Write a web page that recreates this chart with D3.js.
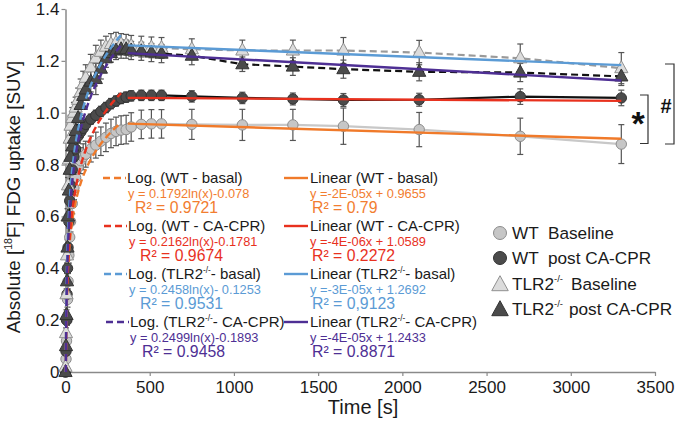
<!DOCTYPE html>
<html><head><meta charset="utf-8">
<script src="https://cdn.jsdelivr.net/npm/d3@7"></script>
<style>body{margin:0;background:#fff}svg{font-family:"Liberation Sans",Arial,sans-serif}</style>
</head><body><svg id="c" width="676" height="429"></svg>
<script>
const times = [0,3,6,9,12,15,20,25,30,40,50,60,75,90,105,120,150,180,210,240,270,300,330,360,390,450,510,570,750,1050,1350,1650,2100,2700,3300];
const wtBase = [0.00,0.05,0.12,0.20,0.28,0.35,0.45,0.52,0.58,0.65,0.71,0.75,0.79,0.815,0.83,0.84,0.86,0.875,0.89,0.905,0.92,0.928,0.933,0.935,0.945,0.955,0.957,0.957,0.955,0.953,0.953,0.948,0.935,0.909,0.879];
const wtCpr = [0.00,0.08,0.20,0.30,0.40,0.48,0.58,0.66,0.72,0.78,0.83,0.86,0.91,0.925,0.94,0.955,0.975,0.99,1.005,1.02,1.035,1.045,1.055,1.06,1.065,1.067,1.067,1.067,1.063,1.057,1.053,1.049,1.05,1.062,1.057];
const tlrBase = [0.02,0.15,0.30,0.45,0.60,0.72,0.82,0.90,0.95,0.98,1.00,1.02,1.05,1.08,1.11,1.135,1.175,1.21,1.235,1.255,1.265,1.27,1.265,1.262,1.258,1.255,1.252,1.25,1.245,1.24,1.24,1.24,1.232,1.21,1.172];
const tlrCpr = [0.00,0.10,0.22,0.35,0.48,0.60,0.70,0.78,0.83,0.87,0.90,0.93,0.98,1.03,1.065,1.09,1.12,1.13,1.17,1.21,1.23,1.24,1.245,1.245,1.24,1.237,1.232,1.228,1.22,1.187,1.178,1.168,1.158,1.155,1.14];
const wtBaseErr = [0.01,0.01,0.02,0.02,0.03,0.03,0.03,0.04,0.04,0.04,0.045,0.045,0.045,0.05,0.05,0.05,0.05,0.05,0.055,0.055,0.055,0.055,0.055,0.055,0.055,0.055,0.055,0.055,0.058,0.06,0.06,0.07,0.066,0.07,0.075];
const wtCprErr = [0.01,0.01,0.015,0.015,0.02,0.02,0.02,0.02,0.02,0.02,0.02,0.02,0.02,0.02,0.02,0.02,0.02,0.02,0.02,0.02,0.02,0.02,0.02,0.02,0.02,0.02,0.02,0.02,0.022,0.022,0.023,0.025,0.025,0.03,0.03];
const tlrBaseErr = [0.01,0.02,0.02,0.03,0.03,0.03,0.035,0.035,0.04,0.04,0.04,0.04,0.045,0.05,0.05,0.05,0.05,0.05,0.045,0.04,0.04,0.04,0.04,0.04,0.04,0.04,0.04,0.04,0.04,0.04,0.04,0.05,0.047,0.055,0.06];
const tlrCprErr = [0.01,0.02,0.02,0.03,0.03,0.03,0.035,0.035,0.035,0.035,0.035,0.035,0.04,0.04,0.04,0.04,0.04,0.06,0.04,0.035,0.035,0.035,0.035,0.035,0.035,0.035,0.035,0.035,0.035,0.028,0.034,0.035,0.035,0.035,0.035];

const seriesNames = ["WT  Baseline","WT  post CA-CPR","TLR2","TLR2"];
const logA = [0.1792,0.2162,0.2458,0.2499];
const logB = [-0.078,-0.1781,-0.1253,-0.1893];
const linSlope = [-2e-5,-4e-6,-2.6e-5,-3.6e-5];
const linIntercept = [0.9655,1.0589,1.2692,1.2433];
const logLabels = ["Log. (WT - basal)","Log. (WT - CA-CPR)","Log. (TLR2|- basal)","Log. (TLR2|- CA-CPR)"];
const logEq = ["y = 0.1792ln(x)-0.078","y = 0.2162ln(x)-0.1781","y = 0.2458ln(x)- 0.1253","y = 0.2499ln(x)-0.1893"];
const logR2 = ["R² = 0.9721","R² = 0.9674","R² = 0.9531","R² = 0.9458"];
const linLabels = ["Linear (WT - basal)","Linear (WT - CA-CPR)","Linear (TLR2|- basal)","Linear (TLR2|- CA-CPR)"];
const linEq = ["y =-2E-05x + 0.9655","y =-4E-06x + 1.0589","y =-3E-05x + 1.2692","y =-4E-05x + 1.2433"];
const linR2 = ["R² = 0.79","R² = 0.2272","R² = 0,9123","R² = 0.8871"];
const xTicks = [0,500,1000,1500,2000,2500,3000,3500];
const yTicks = [0,0.2,0.4,0.6,0.8,1.0,1.2,1.4];

const fitColors = ["#f07a2a","#e8311e","#5b9bd5","#4e2f94"];
const eqColors = ["#f27d30","#e8311e","#5b9bd5","#4e2f94"];

const svg = d3.select("#c");
const x = d3.scaleLinear().domain([0,3500]).range([65.5,655]);
const y = d3.scaleLinear().domain([0,1.4]).range([372,9]);

// axes
const ya = svg.append("g").attr("transform","translate(65.5,0)")
  .call(d3.axisLeft(y).tickValues(yTicks).tickSize(4).tickSizeOuter(0).tickFormat(d=>d===0?"0":d3.format(".1f")(d)));
const xa = svg.append("g").attr("transform","translate(0,372)")
  .call(d3.axisBottom(x).tickValues(xTicks).tickSize(4).tickSizeOuter(0).tickFormat(d3.format("d")));
[ya,xa].forEach(g=>{
  g.selectAll("path").attr("stroke","#8a8a8a").attr("stroke-width",1.5);
  g.selectAll("line").attr("stroke","#8a8a8a").attr("stroke-width",1.2);
  g.selectAll("text").attr("font-size",17).attr("fill","#1a1a1a").attr("font-family","Liberation Sans, Arial, sans-serif");
});
ya.selectAll("text").attr("dx","0.05em");
xa.selectAll("text").attr("dy","0.85em");

// axis titles
svg.append("text").attr("x",363).attr("y",414).attr("text-anchor","middle").attr("font-size",20).attr("fill","#1a1a1a").text("Time [s]");
const yt = svg.append("text").attr("transform","translate(20,197) rotate(-90)").attr("text-anchor","middle").attr("font-size",18.8).attr("fill","#1a1a1a");
yt.append("tspan").text("Absolute [");
yt.append("tspan").attr("font-size",10.5).attr("dy",-8).text("18");
yt.append("tspan").attr("dy",8).text("F] FDG uptake [SUV]");

const data = [wtBase,wtCpr,tlrBase,tlrCpr];
const errs = [wtBaseErr,wtCprErr,tlrBaseErr,tlrCprErr];

// error bars
data.forEach((s,k)=>{
  const g = svg.append("g").attr("stroke","#555").attr("stroke-width",1.2);
  s.forEach((v,i)=>{
    const e = errs[k][i], px = x(times[i]);
    g.append("line").attr("x1",px).attr("x2",px).attr("y1",y(v-e)).attr("y2",y(v+e));
    g.append("line").attr("x1",px-3).attr("x2",px+3).attr("y1",y(v-e)).attr("y2",y(v-e));
    g.append("line").attr("x1",px-3).attr("x2",px+3).attr("y1",y(v+e)).attr("y2",y(v+e));
  });
});

// connecting lines
const lineStyles = [{c:"#c8c8c8",d:null},{c:"#111",d:null},{c:"#9a9a9a",d:"7,4"},{c:"#111",d:"7,4"}];
const lg = d3.line().x((d,i)=>x(times[i])).y(d=>y(d));
data.forEach((s,k)=>{
  svg.append("path").attr("d",lg(s)).attr("fill","none").attr("stroke",lineStyles[k].c)
    .attr("stroke-width",2.2).attr("stroke-dasharray",lineStyles[k].d);
});

// markers
const tri = (cx,cy,s)=>`M${cx},${cy-s*0.62}L${cx+s*0.55},${cy+s*0.38}L${cx-s*0.55},${cy+s*0.38}Z`;
const mk = [{f:"#c6c6c6",s:"#8c8c8c"},{f:"#4b4b4b",s:"#333"},{f:"#dcdcdc",s:"#909090"},{f:"#4b4b4b",s:"#333"}];
data.forEach((s,k)=>{
  s.forEach((v,i)=>{
    const px=x(times[i]), py=y(v);
    if(k<2) svg.append("circle").attr("cx",px).attr("cy",py).attr("r",5.2).attr("fill",mk[k].f).attr("stroke",mk[k].s).attr("stroke-width",1);
    else svg.append("path").attr("d",tri(px,py,12)).attr("fill",mk[k].f).attr("stroke",mk[k].s).attr("stroke-width",1);
  });
});

// fits
logA.forEach((a,k)=>{
  const t0 = Math.exp(-logB[k]/a);
  const pts = d3.range(0,61).map(j=>t0*Math.pow(330/t0,j/60));
  svg.append("path").attr("d",d3.line().x(t=>x(t)).y(t=>y(a*Math.log(t)+logB[k]))(pts))
    .attr("fill","none").attr("stroke",fitColors[k]).attr("stroke-width",2.4).attr("stroke-dasharray","7,4");
  svg.append("path").attr("d",d3.line().x(t=>x(t)).y(t=>y(linSlope[k]*t+linIntercept[k]))([370,3300]))
    .attr("fill","none").attr("stroke",fitColors[k]).attr("stroke-width",2.4);
});

// legend for fits
function richText(sel,str,fs){
  const parts = str.split("|");
  sel.append("tspan").text(parts[0]);
  if(parts.length>1){
    sel.append("tspan").attr("font-size",fs*0.55).attr("dy",-fs*0.42).text("-/-");
    sel.append("tspan").attr("dy",fs*0.42).text(parts[1]);
  }
}
const rowY = [178,226,274,322];
const logTextX = [127,128,128,130], logEqX=[128,129,129,130], logR2X=[135,140,140,142];
rowY.forEach((ry,k)=>{
  svg.append("line").attr("x1",logTextX[k]-24).attr("x2",logTextX[k]-1).attr("y1",ry).attr("y2",ry)
    .attr("stroke",fitColors[k]).attr("stroke-width",2.4).attr("stroke-dasharray","7,4");
  richText(svg.append("text").attr("x",logTextX[k]).attr("y",ry+5).attr("font-size",15).attr("fill","#1a1a1a"),logLabels[k],15);
  svg.append("text").attr("x",logEqX[k]).attr("y",ry+19.5).attr("font-size",12.8).attr("fill",eqColors[k]).text(logEq[k]);
  svg.append("text").attr("x",logR2X[k]).attr("y",ry+35).attr("font-size",15.8).attr("fill",eqColors[k]).text(logR2[k]);
  svg.append("line").attr("x1",284).attr("x2",308).attr("y1",ry).attr("y2",ry)
    .attr("stroke",fitColors[k]).attr("stroke-width",2.4);
  richText(svg.append("text").attr("x",310).attr("y",ry+5).attr("font-size",15).attr("fill","#1a1a1a"),linLabels[k],15);
  svg.append("text").attr("x",310).attr("y",ry+19.5).attr("font-size",12.8).attr("fill",eqColors[k]).text(linEq[k]);
  svg.append("text").attr("x",312).attr("y",ry+35).attr("font-size",15.8).attr("fill",eqColors[k]).text(linR2[k]);
});

// series legend
const legY = [233,258,284,309];
legY.forEach((ly,k)=>{
  if(k<2) svg.append("circle").attr("cx",500).attr("cy",ly).attr("r",6.5).attr("fill",mk[k].f).attr("stroke",mk[k].s);
  else svg.append("path").attr("d",tri(500,ly+1,15)).attr("fill",k===2?"#dcdcdc":"#4b4b4b").attr("stroke",mk[k].s);
  const t = svg.append("text").attr("x",512).attr("y",ly+6).attr("font-size",17.2).attr("fill","#1a1a1a").attr("xml:space","preserve");
  if(k<2) t.text(seriesNames[k]);
  else {
    t.append("tspan").text("TLR2");
    t.append("tspan").attr("font-size",9.5).attr("dy",-8).text("-/-");
    t.append("tspan").attr("dy",8).attr("dx",k===2?8:6).text(k===2?"Baseline":"post CA-CPR");
  }
});

// significance brackets
const br = svg.append("g").attr("stroke","#333").attr("stroke-width",1.2).attr("fill","none");
br.append("path").attr("d","M640,95H648V143.5H640");
br.append("path").attr("d","M665,64H674V144H665");
svg.append("text").attr("x",638).attr("y",135).attr("text-anchor","middle").attr("font-size",34).attr("font-weight","bold").attr("fill","#111").text("*");
svg.append("text").attr("x",666).attr("y",113).attr("text-anchor","middle").attr("font-size",20).attr("font-weight","bold").attr("fill","#111").text("#");
</script></body></html>
